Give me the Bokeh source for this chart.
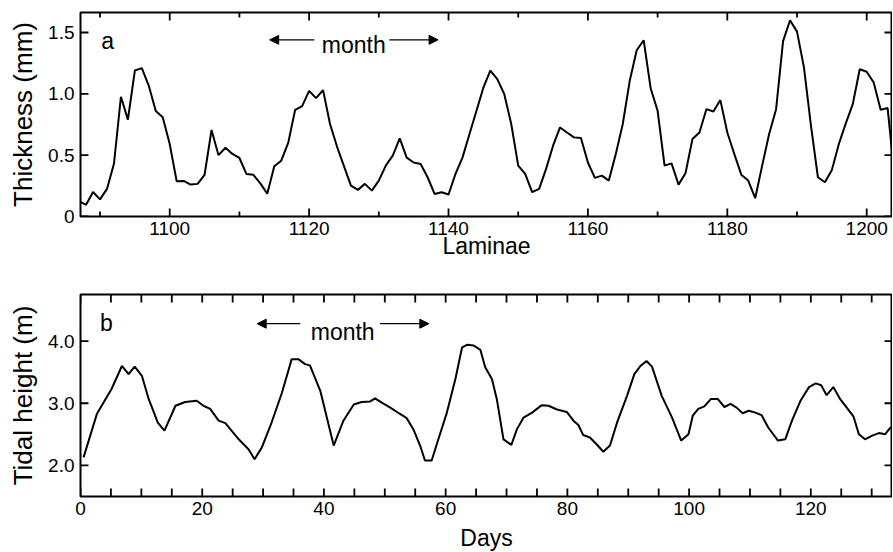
from bokeh.plotting import figure
from bokeh.models import (Range1d, SingleIntervalTicker, FixedTicker,
                          PrintfTickFormatter, Arrow, NormalHead, Label)
from bokeh.layouts import column
from bokeh.embed import file_html
from bokeh.resources import INLINE

# ---------------- data ----------------
laminae = list(range(1087, 1205))
thickness = [
    0.125, 0.095, 0.20, 0.14, 0.225, 0.43, 0.976, 0.79, 1.19, 1.21,
    1.065, 0.86, 0.81, 0.59, 0.287, 0.29, 0.26, 0.266, 0.34, 0.705,
    0.50, 0.56, 0.51, 0.477, 0.347, 0.34, 0.27, 0.185, 0.41, 0.455,
    0.60, 0.87, 0.90, 1.024, 0.965, 1.03, 0.754, 0.57, 0.41, 0.252,
    0.217, 0.266, 0.211, 0.293, 0.415, 0.496, 0.637, 0.48, 0.44, 0.428,
    0.32, 0.184, 0.198, 0.179, 0.347, 0.48, 0.67, 0.86, 1.05, 1.19,
    1.12, 0.997, 0.754, 0.415, 0.347, 0.198, 0.225, 0.388, 0.577, 0.726,
    0.685, 0.645, 0.64, 0.44, 0.315, 0.333, 0.293, 0.51, 0.754, 1.106,
    1.355, 1.437, 1.046, 0.862, 0.415, 0.433, 0.26, 0.352, 0.632, 0.685,
    0.875, 0.856, 0.949, 0.685, 0.51, 0.341, 0.293, 0.149, 0.415, 0.672,
    0.875, 1.43, 1.60, 1.507, 1.214, 0.74, 0.32, 0.279, 0.38, 0.591,
    0.759, 0.916, 1.20, 1.18, 1.092, 0.87, 0.884, 0.32,
]

days = [
    0.5, 2.7, 5.1, 6.8, 7.9, 8.9, 10.1, 11.2, 12.7, 13.8,
    15.6, 17.2, 19.1, 20.2, 21.3, 22.7, 23.8, 26.0, 27.6, 28.6,
    29.8, 31.4, 33.1, 34.7, 35.8, 36.9, 37.7, 39.4, 41.6, 43.2,
    44.9, 46.2, 47.6, 48.4, 49.5, 50.9, 52.3, 53.6, 54.7, 55.8,
    56.6, 57.7, 58.8, 60.2, 61.6, 62.7, 63.5, 64.6, 65.7, 66.5,
    67.6, 68.4, 69.5, 70.8, 71.7, 72.8, 74.2, 75.8, 76.9, 78.3,
    79.9, 81.0, 81.8, 82.6, 83.7, 84.8, 85.9, 87.0, 88.2, 89.8,
    91.0, 92.0, 93.0, 93.9, 95.5, 97.2, 98.7, 99.9, 100.6, 101.5,
    102.5, 103.6, 104.7, 105.8, 106.8, 107.8, 108.8, 109.8, 110.9, 111.9,
    113.0, 114.6, 115.8, 116.9, 118.3, 119.7, 120.8, 121.7, 122.6, 123.7,
    124.8, 125.9, 127.0, 127.9, 128.9, 130.1, 131.2, 132.2, 133.0, 133.6,
]
tidal_height = [
    2.13, 2.83, 3.23, 3.60, 3.47, 3.59, 3.44, 3.07, 2.69, 2.56,
    2.96, 3.02, 3.04, 2.96, 2.91, 2.72, 2.68, 2.42, 2.26, 2.10,
    2.29, 2.69, 3.17, 3.71, 3.71, 3.63, 3.61, 3.20, 2.32, 2.72,
    2.98, 3.02, 3.03, 3.08, 3.01, 2.93, 2.84, 2.76, 2.58, 2.32,
    2.08, 2.08, 2.42, 2.85, 3.39, 3.90, 3.94, 3.93, 3.86, 3.58,
    3.39, 3.07, 2.42, 2.33, 2.58, 2.77, 2.85, 2.97, 2.96, 2.90,
    2.86, 2.72, 2.65, 2.49, 2.45, 2.34, 2.22, 2.32, 2.70, 3.12,
    3.47, 3.60, 3.68, 3.59, 3.12, 2.77, 2.40, 2.50, 2.80, 2.91,
    2.95, 3.07, 3.07, 2.94, 2.99, 2.93, 2.84, 2.88, 2.85, 2.81,
    2.61, 2.40, 2.42, 2.72, 3.04, 3.26, 3.32, 3.29, 3.13, 3.26,
    3.07, 2.93, 2.79, 2.50, 2.42, 2.48, 2.52, 2.50, 2.60, 2.63,
]

# tick positions
thick_xticks_major = [1100, 1120, 1140, 1160, 1180, 1200]
thick_xticks_minor = [1090, 1110, 1130, 1150, 1170, 1190]
thick_yticks = [0.0, 0.5, 1.0, 1.5]
tide_xticks_major = [0, 20, 40, 60, 80, 100, 120]
tide_xticks_minor = [5, 10, 15, 25, 30, 35, 45, 50, 55, 65, 70, 75,
                     85, 90, 95, 105, 110, 115, 125, 130]
tide_yticks = [2.0, 3.0, 4.0]

FONT = "Liberation Sans"
FRAME_W = 812
TICK = 8
TICK_MINOR = 5


def build(x_rng, y_rng, x_interval, x_minor, y_ticks, xlabel, ylabel,
          min_top, min_bottom, fh, lab_standoff, axlab_standoff):
    p = figure(frame_width=FRAME_W, frame_height=fh, x_range=x_rng, y_range=y_rng,
               output_backend="svg", toolbar_location=None,
               min_border_left=80, min_border_right=0,
               min_border_top=min_top, min_border_bottom=min_bottom,
               x_axis_label=xlabel, y_axis_label=ylabel)
    p.grid.grid_line_color = None
    p.outline_line_color = "black"
    p.outline_line_width = 2
    p.background_fill_color = "white"
    p.border_fill_color = "white"
    xa = p.below[0]
    ya = p.left[0]
    xa.ticker = SingleIntervalTicker(interval=x_interval, num_minor_ticks=x_minor)
    ya.ticker = FixedTicker(ticks=y_ticks, minor_ticks=[])
    ya.formatter = PrintfTickFormatter(format="%.1f")
    for ax in (xa, ya):
        ax.axis_line_color = None
        ax.major_tick_in = 0
        ax.major_tick_out = 0
        ax.minor_tick_in = 0
        ax.minor_tick_out = 0
        ax.major_label_text_font = FONT
        ax.major_label_text_font_size = "19px"
        ax.major_label_text_color = "black"
        ax.axis_label_text_font = FONT
        ax.axis_label_text_font_style = "normal"
        ax.axis_label_text_color = "black"
    ya.major_label_standoff = 6
    ya.axis_label_standoff = 7
    ya.axis_label_text_font_size = "26px"
    xa.major_label_standoff = lab_standoff
    xa.axis_label_standoff = axlab_standoff
    xa.axis_label_text_font_size = "23px"
    return p


def frame_ticks(p, fh, x_major, x_minor, minor_len, y_ticks):
    # inward ticks on all four edges of the frame, drawn as segments
    x0, x1 = p.x_range.start, p.x_range.end
    y0, y1 = p.y_range.start, p.y_range.end
    dy_px = (y1 - y0) / fh
    dx_px = (x1 - x0) / FRAME_W
    xs = x_major + x_minor
    lens = [TICK] * len(x_major) + [minor_len] * len(x_minor)
    n = len(xs)
    p.segment(x0=xs + xs, y0=[y1] * n + [y0] * n, x1=xs + xs,
              y1=[y1 - L * dy_px for L in lens] + [y0 + L * dy_px for L in lens],
              line_color="black", line_width=1.8)
    m = len(y_ticks)
    p.segment(x0=[x1] * m + [x0] * m, y0=y_ticks + y_ticks,
              x1=[x1 - TICK * dx_px] * m + [x0 + TICK * dx_px] * m, y1=y_ticks + y_ticks,
              line_color="black", line_width=1.8)


def add_month(p, head_l, tail_l, tail_r, head_r, y_arrow, x_text, y_text):
    for xs, xe in ((tail_l, head_l), (tail_r, head_r)):
        p.add_layout(Arrow(end=NormalHead(size=9, fill_color="black", line_color="black", line_width=1),
                           x_start=xs, y_start=y_arrow, x_end=xe, y_end=y_arrow,
                           line_color="black", line_width=1.3))
    p.add_layout(Label(x=x_text, y=y_text, text="month", text_align="center",
                       text_baseline="alphabetic", text_font=FONT,
                       text_font_size="23px", text_color="black"))


# ---------------- panel a ----------------
p1 = build(Range1d(1087.2, 1203.7), Range1d(0, 1.663), 20, 2, thick_yticks,
           "Laminae", "Thickness (mm)", 12, 50, 204, 5, -5)
p1.left[0].major_label_overrides = {0: "0"}
frame_ticks(p1, 204, thick_xticks_major, thick_xticks_minor, TICK_MINOR, thick_yticks)
p1.line(laminae, thickness, line_color="black", line_width=2)
p1.add_layout(Label(x=1091.1, y=1.434, text="a", text_align="center", text_baseline="alphabetic",
                    text_font=FONT, text_font_size="23px", text_color="black"))
add_month(p1, 1114.34, 1120.75, 1131.5, 1138.5, 1.44, 1126.4, 1.394)

# ---------------- panel b ----------------
p2 = build(Range1d(0, 133.42), Range1d(1.5, 4.75), 20, 4, tide_yticks,
           "Days", "Tidal height (m)", 28, 54, 202, 5, 7)
frame_ticks(p2, 202, tide_xticks_major, tide_xticks_minor, TICK, tide_yticks)
p2.line(days, tidal_height, line_color="black", line_width=2)
p2.add_layout(Label(x=4.27, y=4.285, text="b", text_align="center", text_baseline="alphabetic",
                    text_font=FONT, text_font_size="23px", text_color="black"))
add_month(p2, 29.03, 36.1, 49.2, 57.23, 4.28, 43.08, 4.145)

layout = column(p1, p2)
open("out.html", "w").write(file_html(layout, INLINE))
